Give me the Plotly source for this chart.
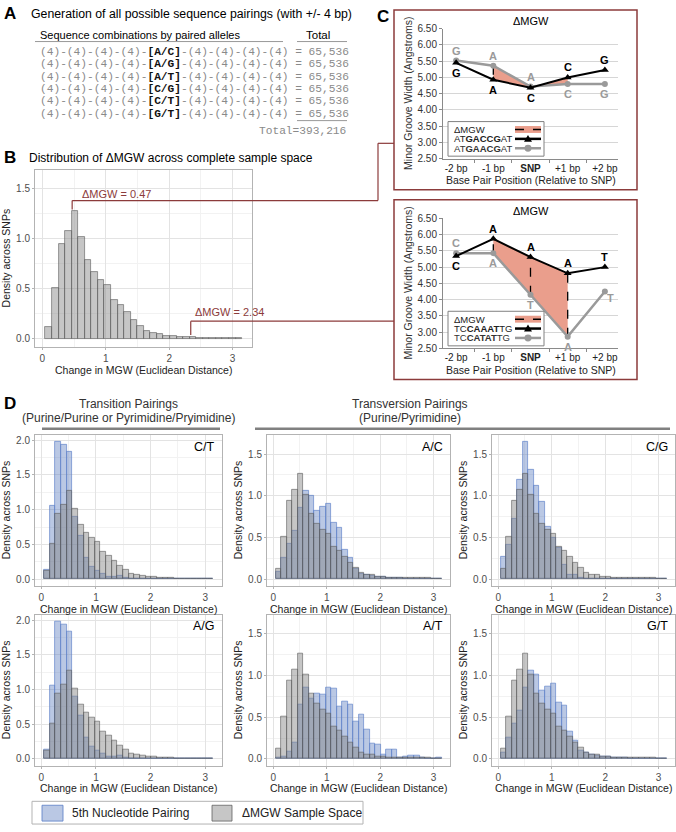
import plotly.graph_objects as go

W, H = 676, 832


def fx(p):
    return p / W


def fy(p):
    return 1 - p / H


##############################################################################
# data
##############################################################################
allele_pairs = ["A/C", "A/G", "A/T", "C/G", "C/T", "G/T"]
combos_per_pair = [65536, 65536, 65536, 65536, 65536, 65536]
total_combos = 393216

# histogram bins (density of change in MGW)
bin_start = 0.048
bin_width = 0.1034
sample_space = [0.12, 0.51, 0.94, 1.07, 1.27, 1.01, 0.78, 0.66, 0.59, 0.54,
                0.39, 0.34, 0.27, 0.19, 0.13, 0.08, 0.055, 0.05, 0.03, 0.03,
                0.02, 0.02, 0.015, 0.01, 0.01, 0.01, 0.01, 0.01, 0.005, 0.005]
pair_ct = [0.14, 1.05, 1.98, 1.93, 1.83, 0.90, 0.62, 0.31, 0.17, 0.12,
           0.07, 0.04, 0.035, 0.05, 0.02, 0.01, 0.01, 0.01, 0.005, 0.005,
           0, 0, 0, 0, 0, 0, 0, 0, 0, 0]
pair_ag = [0.14, 1.05, 1.98, 1.93, 1.83, 0.90, 0.62, 0.31, 0.17, 0.12,
           0.07, 0.04, 0.035, 0.05, 0.02, 0.01, 0.01, 0.01, 0.005, 0.005,
           0, 0, 0, 0, 0, 0, 0, 0, 0, 0]
pair_ac = [0.09, 0.25, 0.42, 0.58, 0.86, 1.06, 1.00, 0.82, 0.87, 0.90,
           0.67, 0.62, 0.35, 0.25, 0.12, 0.06, 0.05, 0.04, 0.03, 0.03,
           0.02, 0.01, 0.01, 0.005, 0.005, 0, 0, 0, 0, 0]
pair_cg = [0.27, 0.41, 0.72, 1.19, 1.65, 1.31, 1.12, 0.93, 0.63, 0.50,
           0.37, 0.17, 0.05, 0.05, 0.01, 0.005, 0, 0, 0, 0,
           0, 0, 0, 0, 0, 0, 0, 0, 0, 0]
pair_at = [0.01, 0.03, 0.09, 0.20, 0.65, 0.86, 0.72, 0.78, 0.77, 0.86,
           0.85, 0.63, 0.69, 0.65, 0.45, 0.53, 0.35, 0.18, 0.17, 0.05,
           0.11, 0.11, 0.01, 0.03, 0.04, 0.04, 0.01, 0, 0, 0.01]
pair_gt = [0.08, 0.25, 0.42, 0.58, 0.86, 1.06, 1.01, 0.82, 0.87, 0.90,
           0.67, 0.64, 0.33, 0.22, 0.10, 0.07, 0.05, 0.04, 0.03, 0.03,
           0.02, 0.01, 0.01, 0.005, 0.005, 0, 0, 0, 0, 0]

# panel C line charts
positions = ["-2 bp", "-1 bp", "SNP", "+1 bp", "+2 bp"]
top_ref_seq, top_alt_seq = "ATGACCGAT", "ATGAACGAT"
top_ref_mgw = [5.45, 4.93, 4.68, 5.00, 5.23]
top_alt_mgw = [5.52, 5.36, 4.72, 4.80, 4.80]
bot_ref_seq, bot_alt_seq = "TCCAAATTG", "TCCATATTG"
bot_ref_mgw = [5.34, 5.87, 5.31, 4.81, 5.00]
bot_alt_mgw = [5.43, 5.43, 4.15, 2.86, 4.25]
example_dmgw = [0.47, 2.34]

##############################################################################
# styling
##############################################################################
FONT = "Liberation Sans, Arial, sans-serif"
MONO = "Liberation Mono, Courier New, monospace"
NARROW = "Liberation Sans Narrow, Arial Narrow, Liberation Sans, sans-serif"
RED = "#8c3b3b"
SALMON = "rgb(234,158,140)"
GRAY_FILL = "rgba(128,128,128,0.45)"
GRAY_EDGE = "rgba(90,90,90,0.75)"
BLUE_FILL = "rgba(90,125,190,0.42)"
BLUE_EDGE = "rgba(95,130,200,0.85)"
ALT_GRAY = "#9a9a9a"
X_TITLE = "Change in MGW (Euclidean Distance)"
Y_TITLE = "Density across SNPs"

HX = [-0.116, 3.306]

fig = go.Figure()
ann = []
shp = []


def text(x, y, s, size=11, color="black", anchor="left", family=FONT, **kw):
    ann.append(dict(x=fx(x), y=fy(y), xref="paper", yref="paper", text=s,
                    showarrow=False, xanchor=anchor, yanchor="middle",
                    font=dict(size=size, color=color, family=family), **kw))


def line(x0, y0, x1, y1, color, width=1, dash=None):
    shp.append(dict(type="line", xref="paper", yref="paper",
                    x0=fx(x0), y0=fy(y0), x1=fx(x1), y1=fy(y1),
                    line=dict(color=color, width=width, dash=dash)))


def rect(x0, y0, x1, y1, fill="rgba(0,0,0,0)", color="black", width=1):
    shp.append(dict(type="rect", xref="paper", yref="paper",
                    x0=fx(x0), y0=fy(y1), x1=fx(x1), y1=fy(y0),
                    fillcolor=fill, line=dict(color=color, width=width)))


def gg_axes(xd, yd, yr, ytv, n):
    sx = "" if n == 1 else str(n)
    common = dict(showline=True, mirror=True, linecolor="#b3b3b3", linewidth=1,
                  ticks="outside", ticklen=2, tickcolor="#b3b3b3",
                  showgrid=True, gridcolor="#e3e3e3", gridwidth=0.7,
                  zeroline=False,
                  tickfont=dict(size=10, color="#4d4d4d", family=FONT))
    xa = dict(common, domain=[fx(xd[0]), fx(xd[1])], range=HX,
              anchor="y" + sx, tickvals=[0, 1, 2, 3],
              minor=dict(dtick=0.5, tick0=0, showgrid=True,
                         gridcolor="#f2f2f2", gridwidth=0.5))
    ya = dict(common, domain=[fy(yd[1]), fy(yd[0])], range=yr,
              anchor="x" + sx, tickvals=ytv, tickformat=".1f",
              minor=dict(dtick=0.25, tick0=0, showgrid=True,
                         gridcolor="#f2f2f2", gridwidth=0.5))
    # axis titles placed as text
    text((xd[0] + xd[1]) / 2, yd[1] + 23, X_TITLE, 10.5, "#222", anchor="center")
    text(xd[0] - 29, (yd[0] + yd[1]) / 2, Y_TITLE, 10.5, "#222", anchor="center",
         textangle=-90)
    return {"xaxis" + sx: xa, "yaxis" + sx: ya}


bin_mid = [bin_start + bin_width * (i + 0.5) for i in range(len(sample_space))]
axes = {}

##############################################################################
# A
##############################################################################
text(2, 9, "<b>A</b>", 17)
text(29, 9, "Generation of all possible sequence pairings (with +/- 4 bp)", 12.3)
text(38, 30, "Sequence combinations by paired alleles", 11)
text(304, 30, "Total", 11.5)
line(35, 37, 283, 37, "#999999", 1)
line(297, 37, 347, 37, "#999999", 1)
for i, (pair, n) in enumerate(zip(allele_pairs, combos_per_pair)):
    s = ("(4)-(4)-(4)-(4)-<b><span style='color:#111'>[%s]</span></b>"
         "-(4)-(4)-(4)-(4) = %s" % (pair, f"{n:,}"))
    text(38, 47.5 + 12.5 * i, s, 11.2, "#8a8a8a", family=MONO)
line(297, 117, 347, 117, "#999999", 1)
text(348, 128, f"Total={total_combos:,}", 11.2, "#8a8a8a", anchor="right", family=MONO)

##############################################################################
# B
##############################################################################
BX, BY = (35, 252), (167, 346)
text(2, 154, "<b>B</b>", 17)
text(27, 155, "Distribution of \u0394MGW across complete sample space", 12)
fig.add_trace(go.Bar(x=bin_mid, y=sample_space, width=bin_width,
                     marker=dict(color=GRAY_FILL, line=dict(color=GRAY_EDGE, width=0.8)),
                     xaxis="x", yaxis="y", showlegend=False))
axes.update(gg_axes(BX, BY, [-0.08, 1.68], [0, 0.5, 1.0, 1.5], 1))


def bx(v):
    return BX[0] + (v - HX[0]) / (HX[1] - HX[0]) * (BX[1] - BX[0])


# connectors to panel C
x1 = bx(example_dmgw[0])
text(x1 + 8, 191, "\u0394MGW = %.2f" % example_dmgw[0], 11, RED)
line(x1, 207, x1, 198, RED, 1.2)
line(x1, 198, 378, 198, RED, 1.2)
line(378, 198, 378, 140, RED, 1.2)
line(378, 140, 394, 140, RED, 1.2)
x2 = bx(example_dmgw[1])
text(x2 + 2, 311, "\u0394MGW = %.2f" % example_dmgw[1], 11, RED)
line(x2, 334, x2, 320, RED, 1.2)
line(x2, 320, 394, 320, RED, 1.2)

##############################################################################
# C
##############################################################################
BL, BR = 394, 637
text(375, 12, "<b>C</b>", 17)


def seq_html(s):
    return s[:2] + "<b>" + s[2:7] + "</b>" + s[7:]


def c_panel(n, top, ref_seq, alt_seq, ref_mgw, alt_mgw, ref_side, alt_side, dashed):
    xs, ys = "x%d" % n, "y%d" % n
    rect(BL, top, BR, top + 182, color=RED, width=1.5)
    text((BL + 49 + BR - 19) / 2, top + 11.5, "\u0394MGW", 11, anchor="center")
    # shaded difference between the two sequences
    poly_x = positions[1:4] + positions[1:4][::-1]
    poly_y = alt_mgw[1:4] + ref_mgw[1:4][::-1]
    fig.add_trace(go.Scatter(x=poly_x, y=poly_y, fill="toself", fillcolor=SALMON,
                             mode="none", xaxis=xs, yaxis=ys, showlegend=False))
    for k in dashed:
        fig.add_trace(go.Scatter(x=[positions[k], positions[k]], y=[alt_mgw[k], ref_mgw[k]],
                                 mode="lines", line=dict(color="black", width=1.3, dash="dash"),
                                 xaxis=xs, yaxis=ys, showlegend=False))
    fig.add_trace(go.Scatter(x=positions, y=alt_mgw, mode="lines+markers",
                             line=dict(color=ALT_GRAY, width=2.5),
                             marker=dict(symbol="circle", size=6, color=ALT_GRAY),
                             xaxis=xs, yaxis=ys, showlegend=False))
    fig.add_trace(go.Scatter(x=positions, y=ref_mgw, mode="lines+markers",
                             line=dict(color="black", width=2),
                             marker=dict(symbol="triangle-up", size=7, color="black"),
                             xaxis=xs, yaxis=ys, showlegend=False))
    for seq, vals, sides, col in ((ref_seq, ref_mgw, ref_side, "black"),
                                  (alt_seq, alt_mgw, alt_side, ALT_GRAY)):
        for i, p in enumerate(positions):
            sd = sides[i]
            xsh, ysh = (6, -7) if sd == "r" else (0, 10 if sd == "a" else -10)
            ann.append(dict(x=p, y=vals[i], xref=xs, yref=ys, text="<b>%s</b>" % seq[2 + i],
                            showarrow=False, xshift=xsh, yshift=ysh,
                            font=dict(size=11, color=col, family=FONT)))
    axes["xaxis%d" % n] = dict(
        domain=[fx(BL + 49), fx(BR - 19)], anchor=ys, type="category",
        categoryorder="array", categoryarray=positions,
        tickvals=positions,
        ticktext=["<b>%s</b>" % p if p == "SNP" else p for p in positions],
        showgrid=False, showline=True, linecolor="#8a8a8a", ticks="outside",
        tickson="boundaries", ticklen=3, tickcolor="#8a8a8a",
        tickfont=dict(size=10, color="#222", family=FONT))
    axes["yaxis%d" % n] = dict(
        domain=[fy(top + 150.5), fy(top + 19)], anchor=xs, range=[2.5, 6.5],
        dtick=0.5, tick0=2.5, tickformat=".2f", showgrid=True, gridcolor="#d6d6d6",
        showline=True, linecolor="#8a8a8a", ticks="outside", ticklen=3,
        tickcolor="#8a8a8a", zeroline=False,
        tickfont=dict(size=10, color="#333", family=FONT))
    text((BL + 49 + BR - 19) / 2, top + 172, "Base Pair Position (Relative to SNP)",
         10.5, "#222", anchor="center")
    text(BL + 14, top + 85, "Minor Groove Width (Angstroms)", 10.5, "#333",
         anchor="center", textangle=-90)
    # legend inside the chart
    rect(BL + 54, top + 113, BL + 150, top + 148, fill="white", color="#808080", width=1)
    r1, r2, r3 = top + 121, top + 130.5, top + 140
    text(BL + 58, r1, "\u0394MGW", 9.5, "#222")
    text(BL + 58, r2, seq_html(ref_seq), 9.5, "#222")
    text(BL + 58, r3, seq_html(alt_seq), 9.5, "#333")
    rect(BL + 121, r1 - 3.5, BL + 147, r1 + 3.5, fill=SALMON, color=SALMON, width=0)
    line(BL + 121, r1, BL + 147, r1, "black", 1.5, "dash")
    line(BL + 121, r2, BL + 147, r2, "black", 2.5)
    cx = BL + 134
    shp.append(dict(type="path", xref="paper", yref="paper", fillcolor="black",
                    line=dict(color="black", width=0),
                    path="M %f,%f L %f,%f L %f,%f Z" % (fx(cx - 4), fy(r2 + 3), fx(cx + 4), fy(r2 + 3),
                                                       fx(cx), fy(r2 - 4))))
    line(BL + 121, r3, BL + 147, r3, ALT_GRAY, 2.5)
    shp.append(dict(type="circle", xref="paper", yref="paper", fillcolor=ALT_GRAY,
                    line=dict(color=ALT_GRAY, width=0),
                    x0=fx(cx - 3.5), x1=fx(cx + 3.5), y0=fy(r3 + 3.5), y1=fy(r3 - 3.5)))


c_panel(2, 5, top_ref_seq, top_alt_seq, top_ref_mgw, top_alt_mgw,
        ["b", "b", "b", "a", "a"], ["a", "a", "a", "b", "b"], [1])
c_panel(3, 197, bot_ref_seq, bot_alt_seq, bot_ref_mgw, bot_alt_mgw,
        ["b", "a", "a", "a", "a"], ["a", "b", "b", "b", "r"], [1, 2, 3])

##############################################################################
# D
##############################################################################
text(2, 403, "<b>D</b>", 17)
text(128, 404, "Transition Pairings", 12, "#333", anchor="center", family=NARROW)
text(128, 418, "(Purine/Purine or Pyrimidine/Pryimidine)", 12, "#333", anchor="center", family=NARROW)
line(42, 429, 220, 429, "#808080", 2.5)
text(410, 404, "Transversion Pairings", 12, "#333", anchor="center", family=NARROW)
text(410, 418, "(Purine/Pyrimidine)", 12, "#333", anchor="center", family=NARROW)
line(255, 429, 670, 429, "#808080", 2.5)

cols = [(35, 222), (267, 450), (492, 675)]
rows = [(435, 588), (617, 770)]
d_panels = [("C/T", pair_ct, 0, 0), ("A/C", pair_ac, 1, 0), ("C/G", pair_cg, 2, 0),
            ("A/G", pair_ag, 0, 1), ("A/T", pair_at, 1, 1), ("G/T", pair_gt, 2, 1)]
for j, (lab, vals, c, r) in enumerate(d_panels):
    n = 4 + j
    xs, ys = "x%d" % n, "y%d" % n
    fig.add_trace(go.Bar(x=bin_mid, y=vals, width=bin_width,
                         marker=dict(color=BLUE_FILL, line=dict(color=BLUE_EDGE, width=0.8)),
                         xaxis=xs, yaxis=ys, showlegend=False))
    fig.add_trace(go.Bar(x=bin_mid, y=sample_space, width=bin_width,
                         marker=dict(color=GRAY_FILL, line=dict(color=GRAY_EDGE, width=0.8)),
                         xaxis=xs, yaxis=ys, showlegend=False))
    if c == 0:
        yr, ytv = [-0.099, 2.079], [0, 0.5, 1.0, 1.5, 2.0]
    else:
        yr, ytv = [-0.0825, 1.7325], [0, 0.5, 1.0, 1.5]
    axes.update(gg_axes(cols[c], rows[r], yr, ytv, n))
    text(cols[c][1] - 5, rows[r][0] + 12, lab, 12.5, "black", anchor="right")

# legend
rect(32, 806, 363, 829, fill="white", color="#b3b3b3", width=1)
rect(42, 810, 63, 826, fill=BLUE_FILL, color=BLUE_EDGE, width=1)
rect(212, 810, 232, 826, fill=GRAY_FILL, color=GRAY_EDGE, width=1)
text(70, 818, "5th Nucleotide Pairing", 12, "#222")
text(240, 818, "\u0394MGW Sample Space", 12, "#222")

fig.update_layout(
    width=W, height=H, autosize=False,
    margin=dict(l=0, r=0, t=0, b=0),
    paper_bgcolor="white", plot_bgcolor="white",
    barmode="overlay", bargap=0, showlegend=False,
    font=dict(family=FONT, color="#222"),
    annotations=ann, shapes=shp,
    **axes,
)

fig.write_html("out.html", config={"displayModeBar": False},
               post_script="document.body.style.margin='0px';")
